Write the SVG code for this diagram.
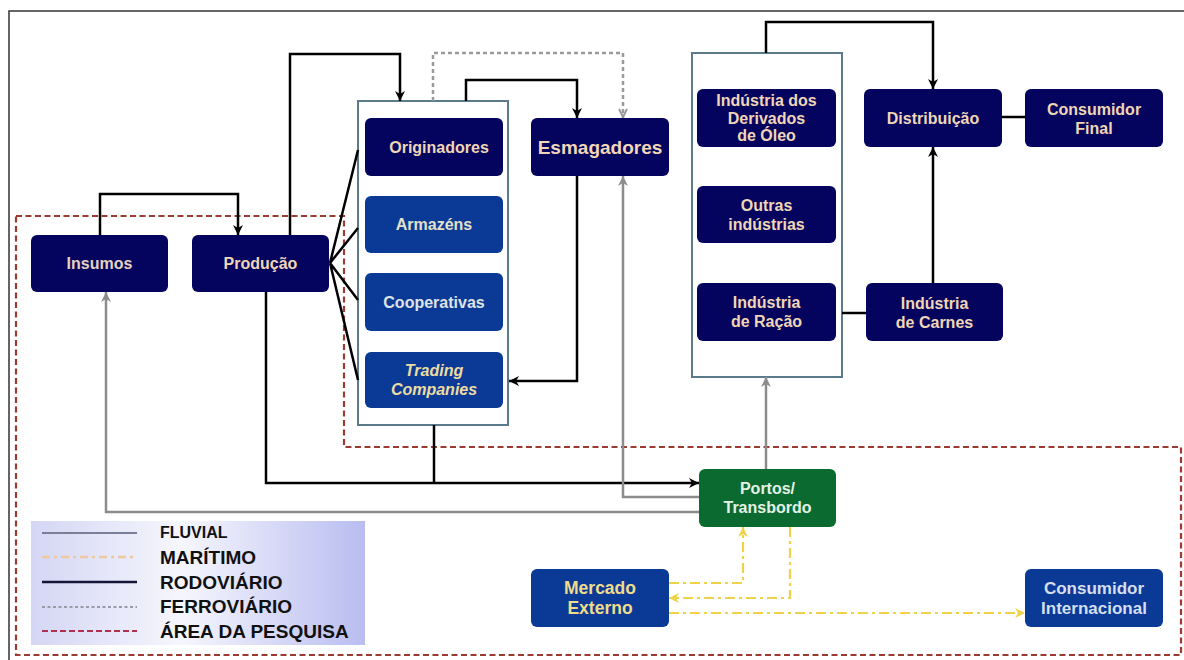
<svg xmlns="http://www.w3.org/2000/svg" width="1184" height="660" viewBox="0 0 1184 660">
<defs>
<linearGradient id="lg" x1="0" y1="0" x2="1" y2="0">
<stop offset="0" stop-color="#d4d6f4"/>
<stop offset="0.45" stop-color="#f6f6fd"/>
<stop offset="1" stop-color="#b9bdf0"/>
</linearGradient>
<marker id="ab" viewBox="0 0 10 10" refX="10" refY="5" markerWidth="10" markerHeight="10" markerUnits="userSpaceOnUse" orient="auto"><path d="M0,0 L10,5 L0,10 L3,5 z" fill="#000"/></marker>
<marker id="ag" viewBox="0 0 10 10" refX="10" refY="5" markerWidth="10" markerHeight="10" markerUnits="userSpaceOnUse" orient="auto"><path d="M0,0 L10,5 L0,10 L3,5 z" fill="#8c8c8c"/></marker>
<marker id="ad" viewBox="0 0 10 10" refX="10" refY="5" markerWidth="10" markerHeight="10" markerUnits="userSpaceOnUse" orient="auto"><path d="M1,1 L9,5 L1,9" fill="none" stroke="#9a9a9a" stroke-width="2"/></marker>
<marker id="ay" viewBox="0 0 10 10" refX="10" refY="5" markerWidth="10" markerHeight="10" markerUnits="userSpaceOnUse" orient="auto"><path d="M0,0 L10,5 L0,10 L3,5 z" fill="#f0d24a"/></marker>
</defs>
<style>
text{font-family:"Liberation Sans",Arial,sans-serif;font-weight:bold;text-anchor:middle}
.navy{fill:#04045e}
.blue{fill:#0b3a96}
.green{fill:#0b6a30}
.cont{fill:#fff;stroke:#5b7b8c;stroke-width:2}
.area{fill:none;stroke:#9b3b32;stroke-width:2.2;stroke-dasharray:6 3.5}
.rod{fill:none;stroke:#000;stroke-width:2.5}
.flu{fill:none;stroke:#8c8c8c;stroke-width:2.5}
.fer{fill:none;stroke:#9a9a9a;stroke-width:2.5;stroke-dasharray:4 3}
.mar{fill:none;stroke:#f0d24a;stroke-width:2.2;stroke-dasharray:10 4 3 4}
.t{font-size:16px;fill:#f0d6b6}
.leg{text-anchor:start;fill:#111;font-size:19px}
</style>
<rect width="1184" height="660" fill="#fff"/>
<path d="M9,660 V11 H1184" fill="none" stroke="#333" stroke-width="1.5"/>

<g id="area-pesquisa">
<path class="area" d="M16,216 H344 V447 H1181 V655 H16 Z"/>
</g>

<g id="container-comercio"><rect class="cont" x="358" y="101" width="150" height="324"/></g>
<g id="container-industria"><rect class="cont" x="692" y="53" width="150" height="324"/></g>

<g id="connectors">
<path class="rod" d="M100,235 V194 H238 V235" marker-end="url(#ab)"/>
<path class="rod" d="M290,235 V54 H400 V101" marker-end="url(#ab)"/>
<path class="rod" d="M330,263 L358,150 M330,263 L358,228 M330,263 L358,300 M330,263 L358,380"/>
<path class="rod" d="M466,101 V80 H577 V118" marker-end="url(#ab)"/>
<path class="rod" d="M577,176 V381 H509" marker-end="url(#ab)"/>
<path class="rod" d="M266,292 V483 H699" marker-end="url(#ab)"/>
<path class="rod" d="M434,425 V483"/>
<path class="rod" d="M766,53 V22 H933 V89" marker-end="url(#ab)"/>
<path class="rod" d="M933,283 V147" marker-end="url(#ab)"/>
<path class="rod" d="M1002,117 H1025"/>
<path class="rod" d="M842,313 H866"/>
<path class="flu" d="M699,512 H106 V292" marker-end="url(#ag)"/>
<path class="flu" d="M699,497 H623 V176" marker-end="url(#ag)"/>
<path class="flu" d="M766,469 V377" marker-end="url(#ag)"/>
<path class="fer" d="M433,101 V53 H623 V118" marker-end="url(#ad)"/>
<path class="mar" d="M669,583 H743 V527" marker-end="url(#ay)"/>
<path class="mar" d="M790,527 V598 H669" marker-end="url(#ay)"/>
<path class="mar" d="M669,613 H1025" marker-end="url(#ay)"/>
</g>

<g id="insumos"><rect class="navy" x="31" y="235" width="137" height="57" rx="6"/><text class="t" x="99.5" y="269" style="fill:#e6d2c0">Insumos</text></g>
<g id="producao"><rect class="navy" x="192" y="235" width="137" height="57" rx="6"/><text class="t" x="260.5" y="269">Produção</text></g>
<g id="originadores"><rect class="navy" x="365" y="118" width="138" height="58" rx="6"/><text class="t" x="439" y="152.5">Originadores</text></g>
<g id="armazens"><rect class="blue" x="365" y="196" width="138" height="57" rx="6"/><text class="t" x="434" y="230" style="fill:#e2e0cc">Armazéns</text></g>
<g id="cooperativas"><rect class="blue" x="365" y="273" width="138" height="58" rx="6"/><text class="t" x="434" y="307.5" style="fill:#dfe3e6">Cooperativas</text></g>
<g id="trading"><rect class="blue" x="365" y="352" width="138" height="56" rx="6"/><text class="t" x="434" style="fill:#ecdca0;font-style:italic"><tspan x="434" y="376">Trading</tspan><tspan x="434" y="395">Companies</tspan></text></g>
<g id="esmagadores"><rect class="navy" x="531" y="118" width="138" height="58" rx="6"/><text class="t" x="600" y="153.5" style="font-size:19px;fill:#f2d6b8">Esmagadores</text></g>
<g id="derivados"><rect class="navy" x="697" y="89" width="139" height="58" rx="6"/><text class="t" x="766.5"><tspan x="766.5" y="106">Indústria dos</tspan><tspan x="766.5" y="123.5">Derivados</tspan><tspan x="766.5" y="141">de Óleo</tspan></text></g>
<g id="outras"><rect class="navy" x="697" y="186" width="139" height="57" rx="6"/><text class="t" x="766.5"><tspan x="766.5" y="211">Outras</tspan><tspan x="766.5" y="230">indústrias</tspan></text></g>
<g id="racao"><rect class="navy" x="697" y="283" width="139" height="58" rx="6"/><text class="t" x="766.5"><tspan x="766.5" y="308">Indústria</tspan><tspan x="766.5" y="327">de Ração</tspan></text></g>
<g id="distribuicao"><rect class="navy" x="864" y="89" width="138" height="58" rx="6"/><text class="t" x="933" y="123.5">Distribuição</text></g>
<g id="consumidor-final"><rect class="navy" x="1025" y="89" width="138" height="58" rx="6"/><text class="t" x="1094"><tspan x="1094" y="114.5">Consumidor</tspan><tspan x="1094" y="133.5">Final</tspan></text></g>
<g id="carnes"><rect class="navy" x="866" y="283" width="137" height="58" rx="6"/><text class="t" x="934.5"><tspan x="934.5" y="308.5">Indústria</tspan><tspan x="934.5" y="327.5">de Carnes</tspan></text></g>
<g id="portos"><rect class="green" x="699" y="469" width="137" height="58" rx="6"/><text class="t" x="767.5" style="fill:#e4f2e4"><tspan x="767.5" y="494">Portos/</tspan><tspan x="767.5" y="513">Transbordo</tspan></text></g>
<g id="mercado-externo"><rect class="blue" x="531" y="569" width="138" height="58" rx="6"/><text class="t" x="600" style="font-size:17.5px;fill:#eedc8c"><tspan x="600" y="594">Mercado</tspan><tspan x="600" y="614">Externo</tspan></text></g>
<g id="consumidor-internacional"><rect class="blue" x="1025" y="569" width="138" height="58" rx="6"/><text class="t" x="1094" style="font-size:17px;fill:#d6dff0"><tspan x="1094" y="594">Consumidor</tspan><tspan x="1094" y="614">Internacional</tspan></text></g>

<g id="legenda">
<rect x="31" y="521" width="334" height="124" fill="url(#lg)"/>
<line x1="42" y1="533" x2="137" y2="533" stroke="#7a7f99" stroke-width="2"/>
<line x1="42" y1="557" x2="137" y2="557" stroke="#f0c8a0" stroke-width="2.5" stroke-dasharray="8 4 3 4"/>
<line x1="42" y1="582" x2="137" y2="582" stroke="#15153a" stroke-width="2.5"/>
<line x1="42" y1="607" x2="137" y2="607" stroke="#9a9aa8" stroke-width="2" stroke-dasharray="3 2.5"/>
<line x1="42" y1="631" x2="137" y2="631" stroke="#b03050" stroke-width="2.2" stroke-dasharray="6 3"/>
<text class="leg" x="160" y="538" style="font-size:16px">FLUVIAL</text>
<text class="leg" x="160" y="564">MARÍTIMO</text>
<text class="leg" x="160" y="589">RODOVIÁRIO</text>
<text class="leg" x="160" y="613">FERROVIÁRIO</text>
<text class="leg" x="160" y="638">ÁREA DA PESQUISA</text>
</g>
</svg>
